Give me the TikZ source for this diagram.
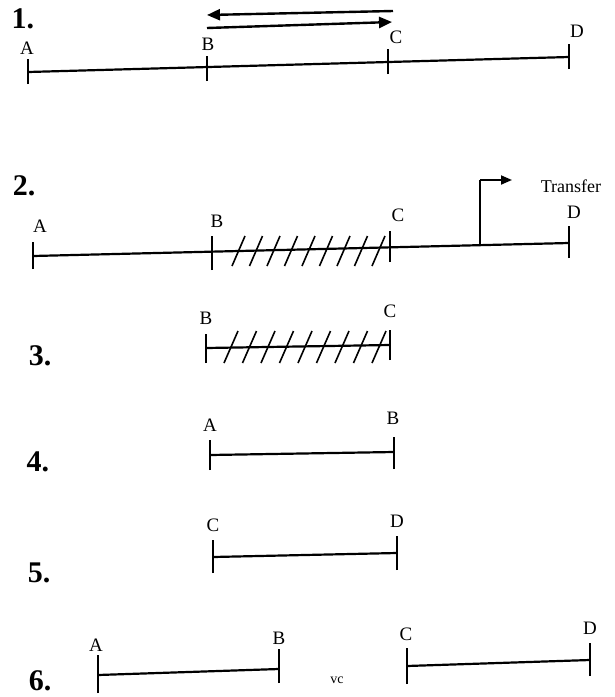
\documentclass[tikz,border=0pt]{standalone}
\usepackage{fontspec}
\setmainfont{Liberation Serif}
\usetikzlibrary{arrows.meta}
\begin{document}
\begin{tikzpicture}[x=1pt,y=-1pt,
  seg/.style={line width=2.2pt},
  tick/.style={line width=1.8pt},
  hatch/.style={line width=1.6pt},
  lbl/.style={font=\fontsize{19}{19}\selectfont, inner sep=0pt},
  num/.style={font=\fontsize{30}{30}\selectfont\bfseries, inner sep=0pt},
  arr/.style={line width=2.4pt,-{Triangle[length=13pt,width=11pt]}}]
\useasboundingbox (0,0) rectangle (614,697);
% ---------- 1 ----------
\node[num] (n1) at (23,19) {1.};
\coordinate (a1) at (28,72); \coordinate (d1) at (569,57);
\coordinate (b1) at (207,67); \coordinate (c1) at (388,62);
\draw[seg] (a1) -- (d1);
\draw[tick] ([yshift=-12]a1) -- ([yshift=13]a1);
\draw[tick] ([yshift=-14]b1) -- ([yshift=11]b1);
\draw[tick] ([yshift=-12]c1) -- ([yshift=13]c1);
\draw[tick] ([yshift=-12]d1) -- ([yshift=13]d1);
\node[lbl] (la1) at (27,48) {A};
\node[lbl] (lb1) at (208,44) {B};
\node[lbl] (lc1) at (396,37) {C};
\node[lbl] (ld1) at (577,31) {D};
\coordinate (p1) at (393,11); \coordinate (p2) at (207,15);
\coordinate (p3) at (207,28); \coordinate (p4) at (392,22);
\draw[arr] (p1) -- (p2);
\draw[arr] (p3) -- (p4);
% ---------- 2 ----------
\node[num] (n2) at (24,186) {2.};
\coordinate (a2) at (33,256); \coordinate (d2) at (569,243);
\coordinate (b2) at (212,252); \coordinate (c2) at (390,248);
\coordinate (t2) at (480,246);
\draw[seg] (a2) -- (d2);
\draw[tick] ([yshift=-13]a2) -- ([yshift=14]a2);
\draw[tick] ([yshift=-18]b2) -- ([yshift=16]b2);
\draw[tick] ([yshift=-14]c2) -- ([yshift=17]c2);
\draw[tick] ([yshift=-15]d2) -- ([yshift=17]d2);
\node[lbl] (la2) at (40,226) {A};
\node[lbl] (lb2) at (217,221) {B};
\node[lbl] (lc2) at (398,215) {C};
\node[lbl] (ld2) at (574,212) {D};
\foreach \x in {0,...,8} {
  \draw[hatch] ({232+17.5*\x},{266}) -- ({245+17.5*\x},{236});
}
\coordinate (tr1) at (480,180); \coordinate (tr2) at (512,180);
\draw[line width=1.8pt] (t2) -- (tr1);
\draw[line width=1.8pt,-{Triangle[length=11pt,width=9pt]}] (tr1) -- (tr2);
\node[lbl,font=\fontsize{18}{18}\selectfont] (ltr) at (571,186) {Transfer};
% ---------- 3 ----------
\node[num] (n3) at (40,356) {3.};
\coordinate (b3) at (206,348); \coordinate (c3) at (390,345);
\draw[seg] (b3) -- (c3);
\draw[tick] ([yshift=-15]b3) -- ([yshift=14]b3);
\draw[tick] ([yshift=-15]c3) -- ([yshift=15]c3);
\node[lbl] (lb3) at (206,318) {B};
\node[lbl] (lc3) at (390,311) {C};
\foreach \x in {0,...,8} {
  \draw[hatch] ({224+18.5*\x},{363}) -- ({238+18.5*\x},{331});
}
% ---------- 4 ----------
\node[num] (n4) at (38,462) {4.};
\coordinate (a4) at (210,455); \coordinate (b4) at (394,452);
\draw[seg] (a4) -- (b4);
\draw[tick] ([yshift=-15]a4) -- ([yshift=15]a4);
\draw[tick] ([yshift=-17]b4) -- ([yshift=15]b4);
\node[lbl] (la4) at (210,425) {A};
\node[lbl] (lb4) at (393,418) {B};
% ---------- 5 ----------
\node[num] (n5) at (39,573) {5.};
\coordinate (c5) at (213,557); \coordinate (d5) at (397,553);
\draw[seg] (c5) -- (d5);
\draw[tick] ([yshift=-16]c5) -- ([yshift=17]c5);
\draw[tick] ([yshift=-17]d5) -- ([yshift=17]d5);
\node[lbl] (lc5) at (213,525) {C};
\node[lbl] (ld5) at (397,521) {D};
% ---------- 6 ----------
\node[num] (n6) at (40,681) {6.};
\coordinate (a6) at (98,675); \coordinate (b6) at (279,669);
\coordinate (c6) at (407,666); \coordinate (d6) at (590,660);
\draw[seg] (a6) -- (b6);
\draw[seg] (c6) -- (d6);
\draw[tick] ([yshift=-18]a6) -- ([yshift=20]a6);
\draw[tick] ([yshift=-14]b6) -- ([yshift=20]b6);
\draw[tick] ([yshift=-18]c6) -- ([yshift=18]c6);
\draw[tick] ([yshift=-16]d6) -- ([yshift=17]d6);
\node[lbl] (la6) at (96,645) {A};
\node[lbl] (lb6) at (279,638) {B};
\node[lbl] (lc6) at (406,634) {C};
\node[lbl] (ld6) at (590,628) {D};
\node[lbl,font=\fontsize{14}{14}\selectfont] (vc) at (337,680) {vc};
\end{tikzpicture}
\end{document}
